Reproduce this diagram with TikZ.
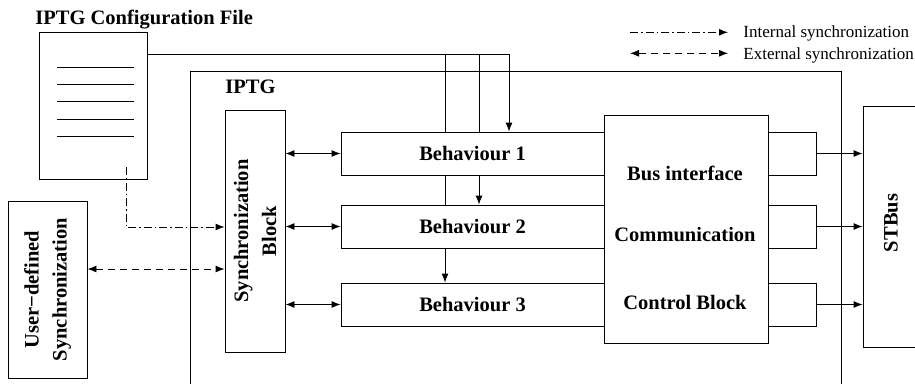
\documentclass[tikz,border=0pt]{standalone}
\usepackage{fontspec}
\setmainfont{Liberation Serif}
\usetikzlibrary{arrows.meta}
\begin{document}
\begin{tikzpicture}[x=1pt,y=-1pt,line width=0.9pt,
  box/.style={draw,rectangle,inner sep=0pt,fill=white},
  lbl/.style={font=\fontsize{20.5}{28}\selectfont\bfseries,inner sep=0pt},
  leg/.style={font=\fontsize{17}{20}\selectfont,inner sep=0pt},
  arr/.style={-{Latex[length=9pt,width=7pt]}},
  dbl/.style={{Latex[length=9pt,width=7pt]}-{Latex[length=9pt,width=7pt]}},
  intsync/.style={dash pattern=on 8pt off 3pt on 1.5pt off 3pt},
  extsync/.style={dash pattern=on 7pt off 5pt},
]
\clip (0,0) rectangle (915,383);

% configuration file
\node[lbl,anchor=base west] (title) at (35,24) {IPTG Configuration File};
\node[box,minimum width=108,minimum height=147] (file) at (93,105.5) {};
\foreach \y in {67,84,101,119,136}
  \draw (57,\y) -- (134,\y);

% IPTG frame
\node[box,fill=none,minimum width=651,minimum height=329] (iptg) at (515.5,235.5) {};
\node[lbl,anchor=base west] (iptglbl) at (225,93) {IPTG};

% synchronization block
\node[box,minimum width=60,minimum height=242] (sync) at (255,231) {};
\node[lbl,rotate=90,align=center] (synclbl) at (sync.center) {Synchronization\\Block};

% behaviours
\node[box,minimum width=263,minimum height=43] (beh1) at (472.5,153.5) {};
\node[box,minimum width=263,minimum height=43] (beh2) at (472.5,226.5) {};
\node[box,minimum width=263,minimum height=43] (beh3) at (472.5,304.5) {};
\node[lbl] (beh1lbl) at (beh1.center) {Behaviour 1};
\node[lbl] (beh2lbl) at (beh2.center) {Behaviour 2};
\node[lbl] (beh3lbl) at (beh3.center) {Behaviour 3};

% bus interface / communication / control block
\node[box,minimum width=164,minimum height=228] (bus) at (686,229) {};
\node[lbl,anchor=base] (buslbl1) at (685,180) {Bus interface};
\node[lbl,anchor=base] (buslbl2) at (685,241) {Communication};
\node[lbl,anchor=base] (buslbl3) at (685,309) {Control Block};

% output ports
\node[box,minimum width=48,minimum height=43] (out1) at (792,153.5) {};
\node[box,minimum width=48,minimum height=43] (out2) at (792,226.5) {};
\node[box,minimum width=48,minimum height=43] (out3) at (792,304.5) {};

% STBus
\node[box,minimum width=56,minimum height=241] (stbus) at (891,226.5) {};
\node[lbl,rotate=90] (stbuslbl) at (891,223) {STBus};

% user-defined synchronization
\node[box,minimum width=79,minimum height=177] (user) at (47.5,289.5) {};
\node[lbl,rotate=90,align=center] (userlbl) at (user.center) {User−defined\\Synchronization};

% configuration links
\coordinate (c1) at (509,54);
\coordinate (c2) at (479,54);
\coordinate (c3) at (445,54);
\draw[arr] (file.east |- c1) -- (c1) -- (c1 |- beh1.north);
\draw (c2) -- (c2 |- beh1.north);
\draw[arr] (c2 |- beh1.south) -- (c2 |- beh2.north);
\draw (c3) -- (c3 |- beh1.north);
\draw (c3 |- beh1.south) -- (c3 |- beh2.north);
\draw[arr] (c3 |- beh2.south) -- (c3 |- beh3.north);

% synchronization block <-> behaviours
\draw[dbl] (sync.east |- beh1.west) -- (beh1.west);
\draw[dbl] (sync.east |- beh2.west) -- (beh2.west);
\draw[dbl] (sync.east |- beh3.west) -- (beh3.west);

% outputs to STBus
\draw[arr] (out1.east) -- (stbus.west |- out1.east);
\draw[arr] (out2.east) -- (stbus.west |- out2.east);
\draw[arr] (out3.east) -- (stbus.west |- out3.east);

% internal synchronization from the file
\coordinate (ds) at (126,167);
\coordinate (dt) at (126,227);
\draw[intsync,arr] (ds) -- (dt) -- (sync.west |- dt);

% external synchronization
\coordinate (ex) at (150,269);
\draw[extsync,dbl] (user.east |- ex) -- (sync.west |- ex);

% legend
\coordinate (l1a) at (630,32.3);
\coordinate (l1b) at (728,32.3);
\coordinate (l2a) at (630,53.3);
\coordinate (l2b) at (728,53.3);
\draw[intsync,arr] (l1a) -- (l1b);
\draw[extsync,dbl] (l2a) -- (l2b);
\node[leg,anchor=base west] (leg1) at (743,37.3) {Internal synchronization};
\node[leg,anchor=base west] (leg2) at (743,59.3) {External synchronization};
\end{tikzpicture}
\end{document}
